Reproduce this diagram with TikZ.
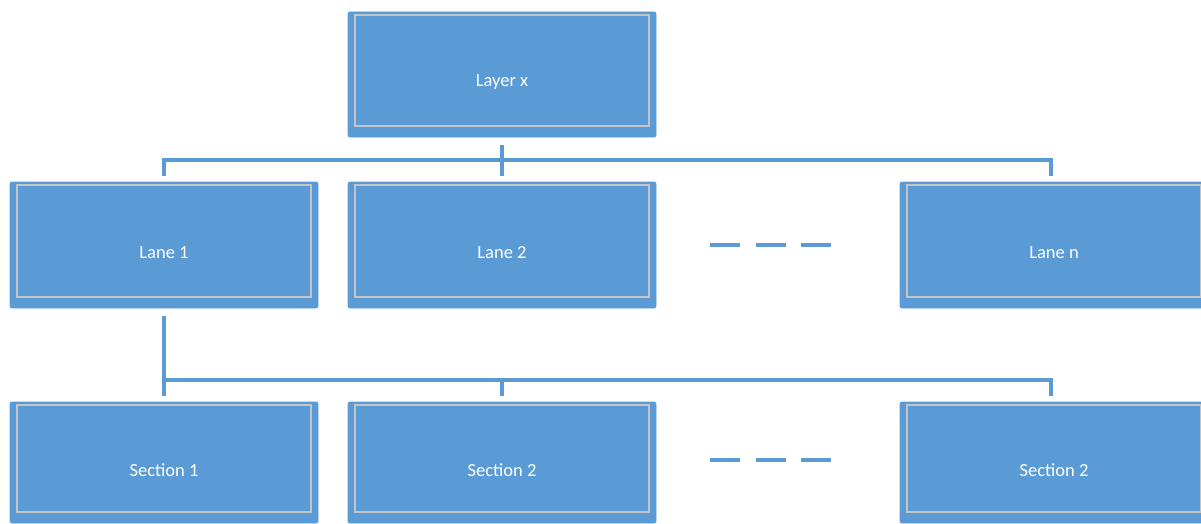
\documentclass[tikz,border=0pt]{standalone}
\usepackage{fontspec}
\setmainfont{Carlito}
\definecolor{boxblue}{HTML}{5B9BD5}
\definecolor{rimgrey}{HTML}{C4C4C4}
\begin{document}
\begin{tikzpicture}[x=1pt,y=-1pt,
  box/.style={draw=boxblue,line width=0.8pt,fill=boxblue,rounded corners=2pt,inner sep=0pt},
  link/.style={draw=boxblue,line width=3.5pt},
  gap/.style={draw=boxblue,line width=3.5pt},
  lbl/.style={text=white,font=\fontsize{18.5}{21}\selectfont}]
\useasboundingbox (0,0) rectangle (1201,524);
\clip (0,0) rectangle (1201,524);
% box with an inset grey rim and a centred label
\newcommand{\chartbox}[6]{%
  \path[box] (#2,#3) rectangle (#4,#5);
  \draw[rimgrey,line width=1.8pt] (#2+7,#3+3) rectangle (#4-7,#5-11);
  \node[lbl] (#1) at ({(#2+#4)/2},{(#3+#5)/2+8}) {#6};
  \coordinate (#1-top) at ({(#2+#4)/2},#3-6);
  \coordinate (#1-bot) at ({(#2+#4)/2},#5+8);
}
\chartbox{layer}{348}{12}{656}{137}{Layer x}
\chartbox{laneA}{10}{182}{318}{308}{Lane 1}
\chartbox{laneB}{348}{182}{656}{308}{Lane 2}
\chartbox{laneN}{900}{182}{1208}{308}{Lane n}
\chartbox{secA}{10}{402}{318}{523}{Section 1}
\chartbox{secB}{348}{402}{656}{523}{Section 2}
\chartbox{secN}{900}{402}{1208}{523}{Section 2}
% tree connectors from the layer to the lanes
\coordinate (busL) at (164,160);
\coordinate (busM) at (502,160);
\coordinate (busR) at (1051,160);
\draw[link] (layer-bot) -- (busM);
\draw[link] (laneA-top) -- (busL) -- (busR) -- (1051,176);
\draw[link] (busM) -- (laneB-top);
% tree connectors from lane 1 to the sections
\coordinate (subL) at (164,380);
\coordinate (subM) at (502,380);
\coordinate (subR) at (1051,380);
\draw[link] (laneA-bot) -- (secA-top);
\draw[link] (subL) -- (subR) -- (1051,396);
\draw[link] (subM) -- (secB-top);
% elided siblings
\foreach \yy in {245,460}{
  \draw[gap] (710,\yy) -- (740,\yy);
  \draw[gap] (756,\yy) -- (786,\yy);
  \draw[gap] (801,\yy) -- (831,\yy);
}
\end{tikzpicture}
\end{document}
